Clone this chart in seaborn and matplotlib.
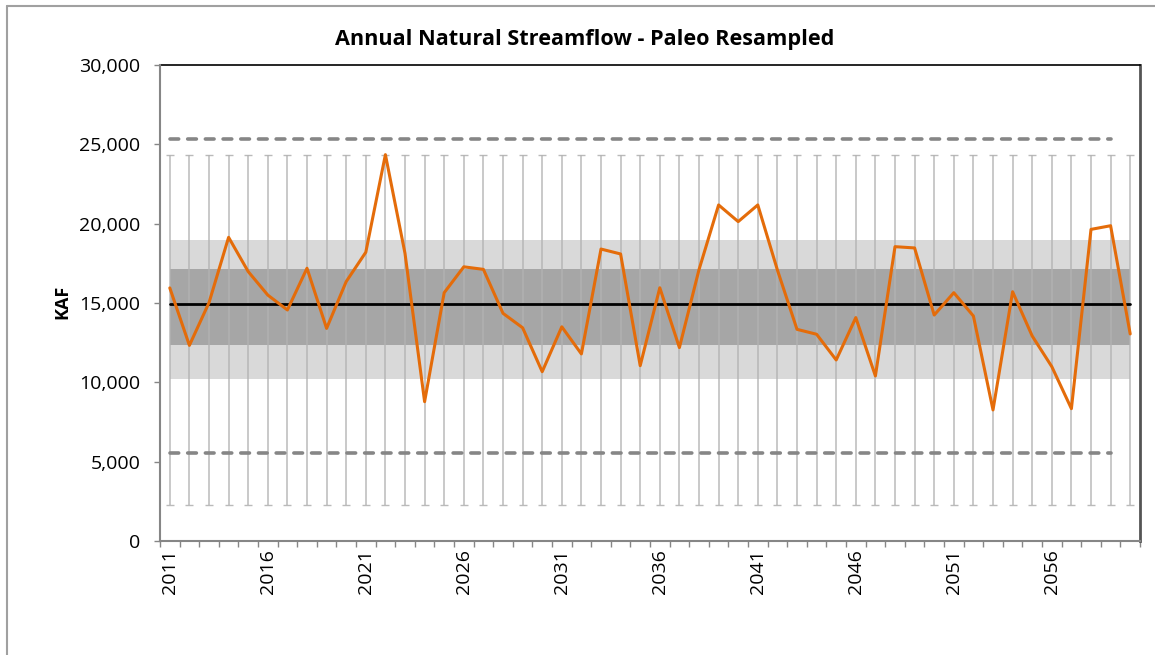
import matplotlib
matplotlib.use("Agg")
import matplotlib.pyplot as plt
from matplotlib.lines import Line2D
from matplotlib.ticker import FuncFormatter, MultipleLocator, FixedLocator
import numpy as np
import pandas as pd
import seaborn as sns

# ---------------- data ----------------
years = list(range(2011, 2061))
flow = [15950, 12330, 15020, 19140, 16980, 15500, 14560, 17190, 13400, 16350,
        18200, 24350, 18130, 8780, 15650, 17280, 17120, 14350, 13440, 10670,
        13500, 11790, 18400, 18090, 11050, 15960, 12190, 17100, 21180, 20130,
        21180, 17080, 13340, 13030, 11410, 14080, 10400, 18550, 18470, 14240,
        15650, 14180, 8260, 15710, 12920, 10990, 8340, 19640, 19870, 13050]
paleo_max = 24310
paleo_min = 2270
mean_flow = 14920
band_outer = (10200, 19000)
band_inner = (12370, 17140)
dashed_upper = 25320
dashed_lower = 5550
dashed_years = (2011, 2059)
tick_years = [2011, 2016, 2021, 2026, 2031, 2036, 2041, 2046, 2051, 2056]

df = pd.DataFrame({"year": years, "flow": flow})
df["pos"] = range(len(df))

# ---------------- style ----------------
sns.set_theme(style="white")
plt.rcParams["font.family"] = ["Open Sans", "DejaVu Sans"]

fig = plt.figure(figsize=(11.55, 6.55), dpi=100)
ax = fig.add_axes([160 / 1155, (655 - 541) / 655, (1140 - 160) / 1155, (541 - 65) / 655])

first = 0
last = len(years) - 1
pos_of = {y: i for i, y in enumerate(years)}

# bands
ax.fill_between([first, last], band_outer[0], band_outer[1], color="#d9d9d9", lw=0, zorder=1)
ax.fill_between([first, last], band_inner[0], band_inner[1], color="#a6a6a6", lw=0, zorder=2)

# range bars
mid = (paleo_max + paleo_min) / 2
half = (paleo_max - paleo_min) / 2
ax.errorbar(df["pos"], [mid] * len(df), yerr=half, fmt="none", ecolor="#b3b3b3",
            elinewidth=1.1, capsize=3.0, capthick=1.0, zorder=3, alpha=0.9)

# mean line
ax.plot([first, last], [mean_flow, mean_flow], color="black", lw=2.0, zorder=4)

# dashed envelope
dx = [pos_of[dashed_years[0]], pos_of[dashed_years[1]]]
for v in (dashed_upper, dashed_lower):
    ax.plot(dx, [v, v], color="#868686", lw=2.6, ls=(0, (2.4, 2.5)),
            dash_capstyle="round", zorder=4)

# streamflow
sns.lineplot(data=df, x="pos", y="flow", color="#E46C0A", lw=2.2, ax=ax, zorder=5)

# ---------------- axes ----------------
ax.set_xlim(-0.5, len(years) - 0.5)
ax.set_ylim(0, 30000)
ax.yaxis.set_major_locator(MultipleLocator(5000))
ax.yaxis.set_major_formatter(FuncFormatter(lambda v, p: f"{int(v):,}"))
ax.xaxis.set_major_locator(FixedLocator([pos_of[y] for y in tick_years]))
ax.set_xticklabels([str(y) for y in tick_years], rotation=90)
ax.xaxis.set_minor_locator(FixedLocator(np.arange(-0.5, len(years), 1.0)))
ax.tick_params(axis="x", which="major", length=0, pad=6, labelsize=14, colors="black")
ax.tick_params(axis="x", which="minor", length=4.5, width=1, color="#868686", direction="out", bottom=True)
ax.tick_params(axis="y", which="major", length=4, width=1, color="#868686", direction="out",
               left=True, pad=10, labelsize=14, labelcolor="black")
ax.set_xlabel("")
ax.set_ylabel("")

for s in ("left", "bottom"):
    ax.spines[s].set_color("#868686")
    ax.spines[s].set_linewidth(1.5)
ax.spines["top"].set_color("black")
ax.spines["top"].set_linewidth(1.2)
ax.spines["right"].set_color("#555555")
ax.spines["right"].set_linewidth(2.0)
ax.spines["left"].set_zorder(6)

fig.text(585 / 1155, 1 - 40 / 655, "Annual Natural Streamflow - Paleo Resampled",
         ha="center", va="center", fontsize=15.6, fontweight="bold", color="black")
fig.text(62 / 1155, 1 - 302 / 655, "KAF", ha="center", va="center", rotation=90,
         fontsize=13, fontweight="bold", color="black")

# outer chart border
fig.add_artist(Line2D([7 / 1155, 7 / 1155], [0, 1 - 6 / 655], color="#a0a0a0", lw=1.5))
fig.add_artist(Line2D([7 / 1155, 1], [1 - 6 / 655, 1 - 6 / 655], color="#a0a0a0", lw=1.5))

fig.savefig("out.png", dpi=100)
